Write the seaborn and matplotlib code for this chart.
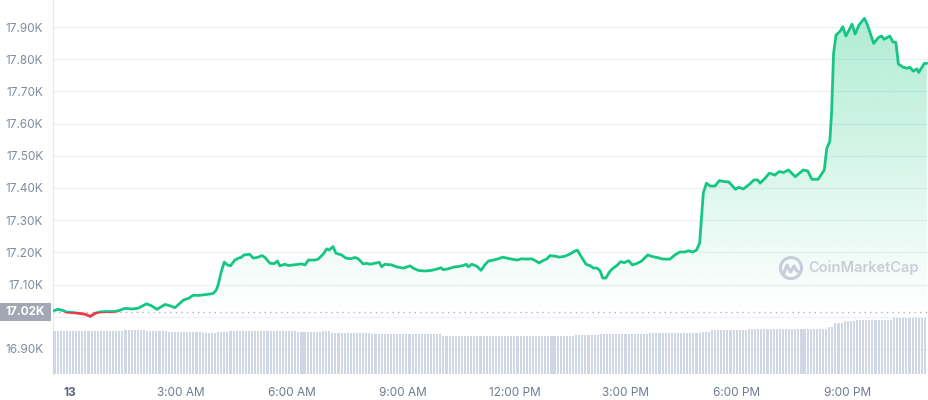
import numpy as np
import pandas as pd
import seaborn as sns
import matplotlib.pyplot as plt
import matplotlib.transforms as mtransforms
from matplotlib.patches import Rectangle, Circle
from matplotlib.lines import Line2D
from matplotlib.path import Path
from matplotlib.colors import to_rgb

# price: minutes after midnight of the 13th (negative = evening of the 12th)
minutes = [-26, -19, -11, -5, 5, 16, 24, 33, 41, 49,
           59, 70, 78, 89, 100, 110, 124, 132, 141, 154,
           162, 170, 184, 192, 200, 208, 221, 232, 237, 240,
           245, 250, 255, 260, 267, 273, 277, 282, 291, 297,
           305, 311, 316, 324, 331, 336, 340, 348, 354, 362,
           370, 375, 381, 386, 397, 402, 410, 416, 420, 426,
           431, 440, 447, 454, 462, 467, 475, 481, 486, 494,
           501, 505, 510, 521, 529, 540, 551, 556, 564, 575,
           586, 594, 601, 605, 613, 621, 629, 637, 642, 645,
           651, 659, 666, 672, 678, 686, 694, 701, 708, 713,
           724, 732, 740, 748, 753, 760, 767, 772, 778, 786,
           793, 802, 810, 817, 822, 829, 836, 843, 848, 854,
           859, 863, 868, 875, 880, 886, 892, 898, 905, 911,
           918, 926, 936, 943, 951, 961, 972, 980, 988, 996,
           1002, 1009, 1015, 1020, 1026, 1031, 1037, 1045, 1052, 1059,
           1067, 1072, 1078, 1083, 1091, 1101, 1108, 1114, 1118, 1126,
           1133, 1142, 1149, 1156, 1164, 1175, 1188, 1195, 1202, 1212,
           1222, 1226, 1231, 1234, 1237, 1241, 1248, 1252, 1257, 1267,
           1272, 1278, 1287, 1292, 1302, 1310, 1315, 1319, 1328, 1333,
           1338, 1342, 1350, 1356, 1361, 1366, 1372, 1375, 1384, 1388]
prices = [17019, 17023, 17019, 17014, 17013, 17010, 17008, 17001, 17011, 17015,
          17016, 17016, 17018, 17026, 17024, 17026, 17040, 17034, 17023, 17038,
          17034, 17028, 17052, 17057, 17067, 17066, 17069, 17072, 17083, 17099,
          17139, 17170, 17161, 17158, 17176, 17182, 17184, 17192, 17194, 17182,
          17185, 17190, 17184, 17166, 17165, 17173, 17158, 17163, 17159, 17161,
          17163, 17164, 17161, 17176, 17176, 17179, 17194, 17211, 17207, 17218,
          17197, 17192, 17182, 17180, 17184, 17180, 17164, 17166, 17163, 17166,
          17169, 17155, 17163, 17161, 17155, 17151, 17158, 17151, 17144, 17142,
          17144, 17148, 17152, 17146, 17149, 17154, 17156, 17159, 17163, 17155,
          17163, 17157, 17144, 17161, 17173, 17176, 17180, 17185, 17182, 17180,
          17176, 17180, 17179, 17180, 17175, 17167, 17175, 17179, 17190, 17188,
          17185, 17188, 17195, 17203, 17207, 17184, 17163, 17158, 17151, 17151,
          17142, 17120, 17120, 17142, 17151, 17159, 17171, 17168, 17174, 17161,
          17165, 17173, 17192, 17187, 17184, 17179, 17179, 17192, 17201, 17201,
          17205, 17201, 17207, 17228, 17384, 17415, 17406, 17406, 17423, 17420,
          17419, 17409, 17396, 17402, 17397, 17412, 17425, 17425, 17415, 17430,
          17446, 17440, 17451, 17448, 17456, 17435, 17456, 17453, 17427, 17427,
          17456, 17523, 17546, 17642, 17818, 17875, 17888, 17901, 17872, 17909,
          17878, 17906, 17927, 17906, 17849, 17868, 17872, 17862, 17872, 17854,
          17852, 17785, 17775, 17772, 17775, 17763, 17770, 17759, 17787, 17787]
open_price = 17013.5
open_label = '17.02K'

# volume bars (billions), read as runs: level and number of 5-minute bars
vol_levels = [23.0, 23.5, 23.0, 22.3, 21.9, 22.2, 23.0, 22.3, 23.0, 22.1, 21.2, 20.3,
              20.9, 21.4, 21.9, 22.6, 23.5, 24.1, 25.3, 27.4, 28.2, 28.9, 29.8]
vol_counts = [23, 7, 7, 11, 5, 4, 22, 8, 3, 13, 23, 43,
              8, 16, 17, 3, 12, 26, 2, 3, 4, 12, 11]
vol_start = -25

tick_minutes = [0, 180, 360, 540, 720, 900, 1080, 1260]
tick_labels = ['13', '3:00 AM', '6:00 AM', '9:00 AM', '12:00 PM', '3:00 PM', '6:00 PM', '9:00 PM']
price_ticks = [16900, 17000, 17100, 17200, 17300, 17400, 17500, 17600, 17700, 17800, 17900]

green = '#16c784'
red = '#ea3943'
grey_txt = '#808a9d'

sns.set_style('white')
plt.rcParams['font.family'] = ['Inter', 'DejaVu Sans']

data = pd.DataFrame({'minute': minutes, 'price': prices})
vol = np.repeat(vol_levels, vol_counts)
vol_t = pd.timedelta_range(start=pd.Timedelta(minutes=vol_start), periods=len(vol), freq='5min')
vol_min = vol_t.total_seconds() / 60

xmin, xmax = -27.5, 1390
ymin, ymax = 16822, 17984

fig = plt.figure(figsize=(9.29, 4), dpi=100)
ax = fig.add_axes([53 / 929, 26 / 400, 875 / 929, 374 / 400])

# gradient fill between the line and the open price
fill = ax.fill_between(data['minute'], np.maximum(data['price'], open_price), open_price,
                       facecolor='none', edgecolor='none')
clip = Path.make_compound_path(*fill.get_paths())
grad = np.zeros((256, 1, 4))
grad[..., :3] = to_rgb(green)
grad[..., 3] = np.linspace(0, 0.36, 256)[:, None]
im = ax.imshow(grad, extent=[xmin, xmax, open_price, ymax], origin='lower', aspect='auto', zorder=1)
im.set_clip_path(clip, transform=ax.transData)
ax.fill_between(data['minute'], np.minimum(data['price'], open_price), open_price,
                color=red, alpha=0.08, lw=0, zorder=1)

# price line, green above open, red below
sns.lineplot(data=data, x='minute', y='price', color=green, linewidth=2, ax=ax, zorder=3)
ax.lines[-1].set_clip_path(Rectangle((xmin, open_price), xmax - xmin, ymax - open_price, transform=ax.transData))
sns.lineplot(data=data, x='minute', y='price', color=red, linewidth=2, ax=ax, zorder=3)
ax.lines[-1].set_clip_path(Rectangle((xmin, ymin), xmax - xmin, open_price - ymin, transform=ax.transData))

ax.axhline(open_price, color='#a7b1c2', lw=1, ls=(0, (1, 3)), zorder=2)

ax.set_xlim(xmin, xmax)
ax.set_ylim(ymin, ymax)
ax.set_xlabel('')
ax.set_ylabel('')
ax.set_yticks(price_ticks, ['' if p == 17000 else f'{p / 1000:.2f}K' for p in price_ticks])
ax.set_xticks(tick_minutes, tick_labels)
ax.tick_params(axis='y', length=0, pad=7, labelcolor=grey_txt, labelsize=8.5)
ax.tick_params(axis='x', length=4, width=1, color='#dfe3e9', pad=5, labelcolor='#6f7b90', labelsize=8.5)
ax.get_xticklabels()[0].set_fontweight('bold')
ax.get_xticklabels()[0].set_color('#58667e')
ax.grid(axis='y', color='#eff2f5', lw=1)
ax.grid(axis='x', visible=False)
for s in ['top', 'right', 'bottom']:
    ax.spines[s].set_visible(False)
ax.spines['left'].set_color('#e4e7ec')

# volume bars on a twin axis
ax2 = ax.twinx()
ax2.bar(vol_min, vol, width=3.4, color='#cfd6e4', linewidth=0)
ax2.set_ylim(0, 200)
ax2.set_xlim(xmin, xmax)
ax2.axis('off')

# open price tag on the left
blend = mtransforms.blended_transform_factory(fig.transFigure, ax.transData)
ax.add_patch(Rectangle((0, open_price - 28), 51 / 929, 56, transform=blend,
                       facecolor='#a1a7b3', edgecolor='none', clip_on=False, zorder=5))
ax.text(25.5 / 929, open_price, open_label, transform=blend, ha='center', va='center',
        color='white', fontweight='bold', fontsize=8.5, zorder=6, clip_on=False)

# watermark
wm = '#c8ced9'
px = mtransforms.IdentityTransform()
fig.add_artist(Circle((791, 132), 10.5, transform=px, fill=False, ec=wm, lw=2.2))
fig.add_artist(Line2D([784, 787, 790.5, 794, 797, 799], [127, 135, 128, 134, 129, 128],
                      transform=px, color=wm, lw=2.2, solid_capstyle='round', solid_joinstyle='round'))
fig.text(808 / 929, 132 / 400, 'CoinMarketCap', color=wm, fontsize=10.5, fontweight='semibold',
         ha='left', va='center')

fig.savefig('out.png', dpi=100)
